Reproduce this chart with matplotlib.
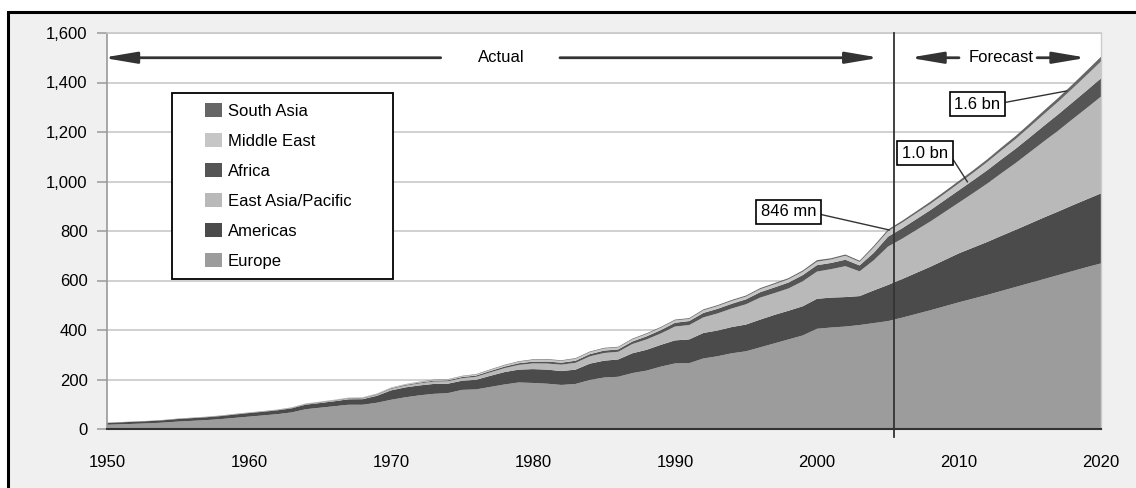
import matplotlib
matplotlib.use("Agg")
import matplotlib.pyplot as plt
from matplotlib.patches import Rectangle
from matplotlib.legend_handler import HandlerPatch
from matplotlib.ticker import FuncFormatter

plt.rcParams["font.family"] = ["Liberation Sans", "DejaVu Sans"]
FS = 12

# ── Data (international tourist arrivals, millions) ─────────────────────────
YEARS = list(range(1950, 2021))

EUROPE = [17, 19, 21, 23, 26, 30, 33, 36, 40, 45,
          50, 55, 60, 67, 80, 86, 92, 98, 98, 106,
          118, 128, 136, 142, 145, 158, 160, 170, 180, 188,
          186, 183, 178, 182, 198, 208, 211, 226, 236, 252,
          265, 266, 285, 294, 306, 314, 330, 346, 362, 378,
          405, 410, 414, 420, 428, 436,
          450, 465, 480, 496, 512, 527, 542, 558, 574, 590, 606, 622, 638, 654, 669]

AMERICAS = [7.5, 8.0, 8.5, 9.0, 9.5, 10.5, 11.0, 11.5, 12.3, 13.5,
            14.5, 14.8, 15.5, 16.5, 18.5, 19.0, 20.0, 22.0, 22.5, 28.0,
            38, 40, 40, 40, 38, 37, 39, 45, 50, 52,
            56, 57, 56, 58, 66, 68, 70, 80, 84, 88,
            93, 96, 103, 104, 106, 108, 112, 115, 116, 118,
            121, 121, 119, 117, 132, 146,
            156, 166, 176, 187, 198, 206, 214, 223, 231, 240, 249, 257, 266, 274, 283]

EAST_ASIA = [0.2, 0.3, 0.3, 0.3, 0.4, 0.5, 0.6, 0.7, 0.8, 0.9,
             0.7, 0.9, 1.1, 1.4, 1.6, 2.1, 2.5, 2.8, 3.2, 4.0,
             6.1, 7.0, 8.2, 9.5, 9.8, 10.2, 12.0, 14.0, 16.0, 19.0,
             23.0, 24.5, 26.0, 27.5, 29.5, 31.1, 31.0, 37.5, 42.0, 46.0,
             56, 58, 63, 69, 75, 82, 89, 88, 90, 101,
             110, 115, 125, 100, 122, 155,
             163, 173, 183, 194, 205, 220, 236, 253, 270, 289, 308, 327, 348, 369, 391]

AFRICA = [0.5, 0.5, 0.6, 0.6, 0.7, 0.8, 0.8, 0.9, 0.9, 1.0,
          0.8, 0.9, 1.0, 1.2, 1.4, 1.5, 1.6, 1.8, 2.0, 2.2,
          2.4, 2.9, 3.2, 3.6, 3.8, 4.7, 5.0, 5.6, 6.2, 6.8,
          7.2, 8.0, 8.0, 8.4, 8.9, 9.7, 9.5, 10.1, 12.4, 13.7,
          15.2, 16.2, 18.0, 18.7, 19.0, 20.0, 21.8, 23.0, 24.0, 25.0,
          26.0, 25.0, 26.0, 24.0, 30.0, 40.0,
          42, 44, 46, 48, 50, 52, 54, 56, 58, 60, 63, 66, 68, 71, 74]

MIDDLE_EAST = [0.2, 0.2, 0.2, 0.3, 0.3, 0.4, 0.4, 0.5, 0.5, 0.6,
               0.6, 0.7, 0.8, 0.9, 1.1, 1.2, 1.4, 1.4, 1.5, 1.7,
               1.9, 2.2, 2.5, 2.9, 3.1, 3.3, 4.0, 4.5, 5.0, 5.8,
               7.1, 7.5, 7.4, 7.9, 8.0, 8.4, 8.1, 8.8, 9.3, 9.5,
               9.6, 8.4, 10.5, 11.0, 11.5, 11.0, 12.0, 12.5, 13.0, 13.5,
               14.0, 14.0, 16.0, 14.0, 22.0, 22.0,
               23, 24, 25, 26, 28, 30, 33, 36, 39, 43, 47, 51, 56, 62, 68]

SOUTH_ASIA = [0.1, 0.1, 0.1, 0.1, 0.1, 0.2, 0.2, 0.2, 0.2, 0.2,
              0.3, 0.3, 0.3, 0.4, 0.4, 0.5, 0.5, 0.6, 0.7, 0.8,
              0.9, 1.0, 1.2, 1.4, 1.5, 1.6, 1.8, 2.0, 2.1, 2.2,
              2.3, 2.4, 2.4, 2.5, 2.6, 2.6, 2.6, 2.8, 3.0, 3.1,
              3.2, 3.4, 3.7, 3.8, 4.0, 4.2, 4.4, 4.6, 4.8, 5.1,
              6.1, 5.0, 5.0, 5.0, 6.0, 7.0,
              7.5, 8, 9, 9.5, 10, 10.5, 11, 12, 12.5, 13.5, 14.5, 15.5, 16.5, 18, 19]

REGIONS = ["Europe", "Americas", "East Asia/Pacific", "Africa", "Middle East", "South Asia"]
COLORS = ["#9c9c9c", "#4b4b4b", "#b9b9b9", "#555555", "#c6c6c6", "#666666"]

FORECAST_START = 2005.4


class RightSquare(HandlerPatch):
    """Legend key drawn as a small square at the right end of the handle box."""
    def create_artists(self, legend, orig_handle, xdescent, ydescent,
                       width, height, fontsize, trans):
        side = 1.02 * fontsize
        r = Rectangle((width - side - xdescent, -ydescent), side, height,
                      facecolor=orig_handle.get_facecolor(), edgecolor="none",
                      transform=trans)
        return [r]


fig = plt.figure(figsize=(11.36, 4.88), dpi=100, facecolor="white")
fig.add_artist(Rectangle((8 / 1136, -0.1), 1.2, 1.1 - 12 / 488,
                         transform=fig.transFigure, facecolor="#f0f0f0",
                         edgecolor="black", lw=2.2, zorder=-10))

ax = fig.add_axes([107 / 1136, 1 - 429 / 488, 994 / 1136, 396 / 488])
ax.set_facecolor("white")

ax.stackplot(YEARS, EUROPE, AMERICAS, EAST_ASIA, AFRICA, MIDDLE_EAST, SOUTH_ASIA,
             colors=COLORS, lw=0, zorder=2)

ax.set_xlim(1950, 2020)
ax.set_ylim(0, 1600)
ax.set_xticks(range(1950, 2021, 10))
ax.set_yticks(range(0, 1601, 200))
ax.yaxis.set_major_formatter(FuncFormatter(lambda v, p: f"{v:,.0f}"))
ax.grid(axis="y", color="#c8c8c8", lw=1.2, zorder=1)
ax.set_axisbelow(True)
ax.tick_params(axis="y", length=7, width=1.1, color="#999999", pad=7, labelsize=FS)
ax.tick_params(axis="x", length=0, pad=19, labelsize=FS)

ax.spines["left"].set_color("#999999")
ax.spines["left"].set_linewidth(1.2)
ax.spines["bottom"].set_color("#333333")
ax.spines["bottom"].set_linewidth(1.5)
ax.spines["top"].set_color("#c8c8c8")
ax.spines["top"].set_linewidth(1.2)
ax.spines["right"].set_color("#cccccc")
ax.spines["right"].set_linewidth(1.0)

# actual / forecast divider
ax.axvline(FORECAST_START, ymin=-0.02, ymax=1.0, color="#333333", lw=1.3,
           clip_on=False, zorder=5)

arrow_kw = dict(arrowstyle="-|>,head_length=1.0,head_width=0.17", color="#333333",
                lw=2.0, mutation_scale=20, shrinkA=0, shrinkB=0)
ax.annotate("", xy=(1949.7, 1500), xytext=(1973.5, 1500), arrowprops=arrow_kw,
            annotation_clip=False)
ax.annotate("", xy=(2004.4, 1500), xytext=(1981.9, 1500), arrowprops=arrow_kw)
ax.text(1977.8, 1500, "Actual", ha="center", va="center", fontsize=FS)
ax.annotate("", xy=(2006.5, 1500), xytext=(2010.0, 1500), arrowprops=arrow_kw)
ax.annotate("", xy=(2019.0, 1500), xytext=(2015.5, 1500), arrowprops=arrow_kw)
ax.text(2013.0, 1500, "Forecast", ha="center", va="center", fontsize=FS)

# call-out boxes
box = dict(boxstyle="square,pad=0.28", fc="white", ec="black", lw=1.2)
callouts = [("846 mn", (2005.1, 804), (1998.0, 877), (1, 0.4)),
            ("1.0 bn", (2010.6, 998), (2007.6, 1115), (1, 0.6)),
            ("1.6 bn", (2017.6, 1366), (2011.3, 1313), (1, 0.55))]
for txt, xy, xytext, rel in callouts:
    ax.annotate(txt, xy=xy, xytext=xytext, ha="center", va="center", fontsize=FS,
                bbox=box, zorder=6,
                arrowprops=dict(arrowstyle="-", color="#333333", lw=1.0,
                                relpos=rel, shrinkA=0, shrinkB=0))

# legend (top layer first)
handles = [Rectangle((0, 0), 1, 1, facecolor=c) for c in COLORS]
leg = ax.legend(handles[::-1], REGIONS[::-1], loc="upper left",
                bbox_to_anchor=(65 / 994, 336 / 396, 221 / 994, 0.0), mode="expand",
                borderaxespad=0, fontsize=FS, fancybox=False, framealpha=1,
                edgecolor="black", borderpad=0.62, labelspacing=0.86,
                handlelength=2.38, handleheight=0.9, handletextpad=0.36,
                handler_map={Rectangle: RightSquare()})
leg.get_frame().set_linewidth(1.3)
leg.set_zorder(7)

fig.savefig("out.png", dpi=100, facecolor=fig.get_facecolor())
